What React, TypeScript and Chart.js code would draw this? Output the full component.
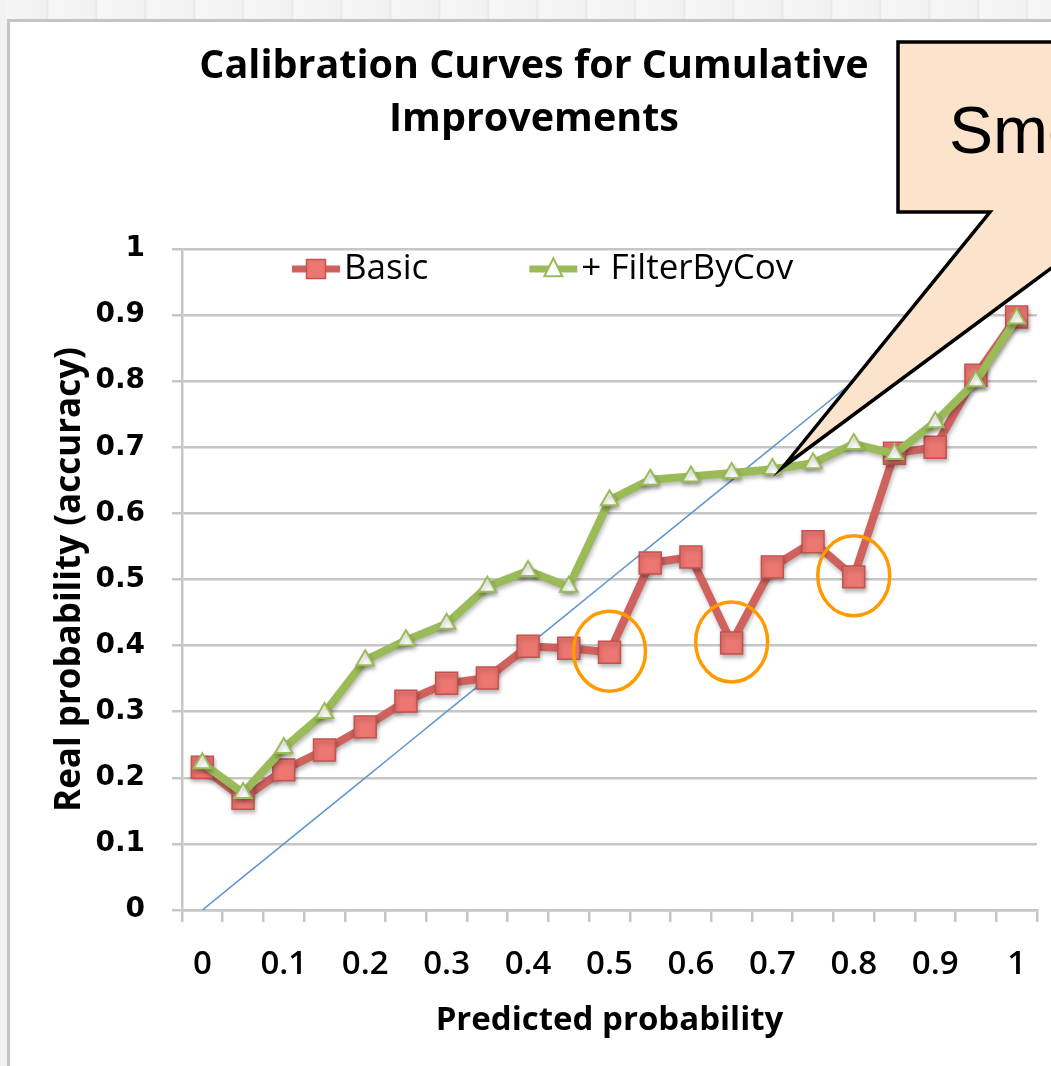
import { useEffect, useRef } from 'react';
import { Chart, registerables } from 'chart.js';

Chart.register(...registerables);

// ---------------- data ----------------
const TITLE_LINES = ['Calibration Curves for Cumulative', 'Improvements'];
const X_TITLE = 'Predicted probability';
const Y_TITLE = 'Real probability (accuracy)';

const CATEGORIES = ['0', '0.05', '0.1', '0.15', '0.2', '0.25', '0.3', '0.35', '0.4', '0.45', '0.5', '0.55', '0.6', '0.65', '0.7', '0.75', '0.8', '0.85', '0.9', '0.95', '1'];
const X_TICK_LABELS = ['0', '0.1', '0.2', '0.3', '0.4', '0.5', '0.6', '0.7', '0.8', '0.9', '1'];

const SERIES_NAMES = ['Basic', '+ FilterByCov'];
const BASIC = [0.216, 0.169, 0.212, 0.242, 0.277, 0.316, 0.343, 0.351, 0.399, 0.396, 0.39, 0.525, 0.534, 0.404, 0.519, 0.557, 0.504, 0.691, 0.7, 0.809, 0.897];
const FILTER_BY_COV = [0.222, 0.177, 0.245, 0.298, 0.378, 0.408, 0.433, 0.489, 0.513, 0.489, 0.62, 0.651, 0.656, 0.661, 0.667, 0.676, 0.705, 0.69, 0.738, 0.8, 0.895];
const DIAGONAL = [0, 0.05, 0.1, 0.15, 0.2, 0.25, 0.3, 0.35, 0.4, 0.45, 0.5, 0.55, 0.6, 0.65, 0.7, 0.75, 0.8, 0.85, 0.9, 0.95, 1];

const Y_TICKS = [0, 0.1, 0.2, 0.3, 0.4, 0.5, 0.6, 0.7, 0.8, 0.9, 1];
const Y_TICK_LABELS = ['0', '0.1', '0.2', '0.3', '0.4', '0.5', '0.6', '0.7', '0.8', '0.9', '1'];

const CIRCLED_CATEGORIES = ['0.5', '0.65', '0.8'];
const CALLOUT_TEXT = 'Smoother';

// ---------------- styles ----------------
const RED_LINE = 'rgb(208,98,94)';
const RED_FILL = 'rgb(236,118,113)';
const RED_BORDER = 'rgb(196,82,78)';
const GREEN = 'rgb(155,187,89)';
const BLUE = 'rgb(98,150,208)';
const GRID = '#c6c6c6';
const ORANGE = '#ff9a00';

const CANVAS_LEFT = 31;
const CANVAS_W = 1026;
const CANVAS_H = 1066;

const shadowPlugin = {
  id: 'shadowPlugin',
  beforeDatasetDraw(chart: any, args: any) {
    if (args.index > 1) return;
    const ctx = chart.ctx;
    ctx.save();
    ctx.shadowColor = 'rgba(0,0,0,0.28)';
    ctx.shadowBlur = 4;
    ctx.shadowOffsetX = 1;
    ctx.shadowOffsetY = 3;
  },
  afterDatasetDraw(chart: any, args: any) {
    if (args.index > 1) return;
    chart.ctx.restore();
  },
};

const circlesPlugin = {
  id: 'circlesPlugin',
  afterDatasetsDraw(chart: any) {
    const { ctx, scales } = chart;
    ctx.save();
    ctx.strokeStyle = ORANGE;
    ctx.lineWidth = 3.5;
    CIRCLED_CATEGORIES.forEach((cat) => {
      const idx = CATEGORIES.indexOf(cat);
      const cx = scales.x.getPixelForValue(idx);
      const cy = scales.y.getPixelForValue(BASIC[idx]);
      ctx.beginPath();
      ctx.ellipse(cx, cy - 1, 36, 40, 0, 0, Math.PI * 2);
      ctx.stroke();
    });
    ctx.restore();
  },
};

function drawSquare(ctx: CanvasRenderingContext2D, x: number, y: number, s: number) {
  ctx.fillStyle = RED_FILL;
  ctx.strokeStyle = RED_BORDER;
  ctx.lineWidth = 1.5;
  ctx.fillRect(x - s / 2, y - s / 2, s, s);
  ctx.strokeRect(x - s / 2, y - s / 2, s, s);
}

function drawTriangle(ctx: CanvasRenderingContext2D, x: number, y: number, s: number) {
  ctx.fillStyle = '#ffffff';
  ctx.strokeStyle = GREEN;
  ctx.lineWidth = 2;
  ctx.beginPath();
  ctx.moveTo(x, y - s * 0.6);
  ctx.lineTo(x + s / 2, y + s * 0.4);
  ctx.lineTo(x - s / 2, y + s * 0.4);
  ctx.closePath();
  ctx.fill();
  ctx.stroke();
}

const legendPlugin = {
  id: 'customLegend',
  afterDraw(chart: any) {
    const { ctx, chartArea } = chart;
    ctx.save();
    ctx.font = '35px "Open Sans"';
    ctx.textBaseline = 'middle';
    ctx.textAlign = 'left';
    let x = chartArea.left + 110;
    const y = chartArea.top + 20;
    SERIES_NAMES.forEach((name, i) => {
      const ds = chart.data.datasets[i];
      ctx.strokeStyle = ds.borderColor;
      ctx.lineWidth = 7;
      ctx.beginPath();
      ctx.moveTo(x, y);
      ctx.lineTo(x + 48, y);
      ctx.stroke();
      if (i === 0) drawSquare(ctx, x + 24, y, 19);
      else drawTriangle(ctx, x + 24, y, 18);
      ctx.fillStyle = '#000';
      ctx.fillText(name, x + 52, y);
      x += 52 + ctx.measureText(name).width + 101;
    });
    ctx.restore();
  },
};

export default function App() {
  const canvasRef = useRef<HTMLCanvasElement | null>(null);

  useEffect(() => {
    const canvas = canvasRef.current;
    if (!canvas) return;
    const chart = new Chart(canvas, {
      type: 'line',
      data: {
        labels: CATEGORIES,
        datasets: [
          {
            label: SERIES_NAMES[0],
            data: BASIC,
            borderColor: RED_LINE,
            borderWidth: 8,
            pointStyle: 'rect',
            pointRadius: 15.5,
            pointBackgroundColor: RED_FILL,
            pointBorderColor: RED_BORDER,
            pointBorderWidth: 1.5,
            tension: 0,
            order: 1,
          },
          {
            label: SERIES_NAMES[1],
            data: FILTER_BY_COV,
            borderColor: GREEN,
            borderWidth: 8,
            pointStyle: 'triangle',
            pointRadius: 10,
            pointBackgroundColor: '#ffffff',
            pointBorderColor: GREEN,
            pointBorderWidth: 2,
            tension: 0,
            order: 0,
          },
          {
            label: 'diagonal',
            data: DIAGONAL,
            borderColor: BLUE,
            borderWidth: 1.6,
            pointRadius: 0,
            tension: 0,
            order: 2,
          },
        ],
      },
      options: {
        responsive: false,
        animation: false,
        events: [],
        devicePixelRatio: 1,
        layout: { padding: { left: 0, right: 20, top: 0, bottom: 0 } },
        plugins: {
          legend: { display: false },
          tooltip: { enabled: false },
          title: {
            display: true,
            text: TITLE_LINES,
            color: '#000',
            font: { family: '"Open Sans"', weight: 'bold', size: 39.5, lineHeight: 53 / 39.5 },
            padding: { top: 40, bottom: 103 },
          },
        },
        scales: {
          x: {
            type: 'category',
            offset: true,
            grid: {
              offset: true,
              drawOnChartArea: false,
              drawTicks: true,
              tickLength: 12,
              color: GRID,
              lineWidth: 2.5,
            },
            border: { display: true, color: GRID, width: 2.5 },
            ticks: {
              autoSkip: false,
              maxRotation: 0,
              minRotation: 0,
              padding: 23,
              color: '#000',
              font: { family: '"Open Sans"', weight: '600', size: 33 },
              callback: (_v: any, index: number) => {
                const cat = CATEGORIES[index];
                return X_TICK_LABELS.includes(cat) ? cat : '';
              },
            },
            title: {
              display: true,
              text: X_TITLE,
              color: '#000',
              font: { family: '"Open Sans"', weight: 'bold', size: 33, lineHeight: 1.2 },
              padding: { top: 0, bottom: 26 },
            },
            afterFit: (scale: any) => {
              scale.height = 156;
            },
          },
          y: {
            min: 0,
            max: 1,
            afterBuildTicks: (axis: any) => {
              axis.ticks = Y_TICKS.map((v) => ({ value: v }));
            },
            grid: {
              color: GRID,
              lineWidth: 2.5,
              drawTicks: true,
              tickLength: 10,
            },
            border: { display: true, color: GRID, width: 2.5 },
            ticks: {
              padding: 27,
              color: '#000',
              font: { family: '"DejaVu Sans"', weight: 'bold', size: 28 },
              callback: (v: any) => {
                const i = Y_TICKS.indexOf(Number(v));
                return i >= 0 ? Y_TICK_LABELS[i] : '';
              },
            },
            title: {
              display: true,
              text: Y_TITLE,
              color: '#000',
              font: { family: '"Open Sans"', weight: 'bold', size: 35, lineHeight: 1.2 },
              padding: { top: 18, bottom: 0 },
            },
            afterFit: (scale: any) => {
              scale.width = 182 - CANVAS_LEFT;
            },
          },
        },
      },
      plugins: [shadowPlugin, circlesPlugin, legendPlugin],
    } as any);
    return () => chart.destroy();
  }, []);

  return (
    <div
      style={{
        position: 'absolute',
        left: 0,
        top: 0,
        width: 1051,
        height: 1066,
        overflow: 'hidden',
        background: '#ffffff',
      }}
    >
      {/* slide frame */}
      <div
        style={{
          position: 'absolute',
          left: 0,
          top: 0,
          width: 1051,
          height: 19,
          background:
            'repeating-linear-gradient(to right, #f6f6f6 0px, #f1f1f1 46px, #e4e4e4 47px, #f6f6f6 49px)',
        }}
      />
      <div style={{ position: 'absolute', left: 0, top: 0, width: 7, height: 1066, background: '#f2f2f2' }} />
      <div
        style={{
          position: 'absolute',
          left: 7,
          top: 19,
          width: 1100,
          height: 1100,
          borderLeft: '3px solid #c4c4c4',
          borderTop: '3px solid #c4c4c4',
          background: '#ffffff',
        }}
      />
      <canvas
        ref={canvasRef}
        width={CANVAS_W}
        height={CANVAS_H}
        style={{ position: 'absolute', left: CANVAS_LEFT, top: 0, width: CANVAS_W, height: CANVAS_H }}
      />
      <svg
        width={1051}
        height={1066}
        style={{ position: 'absolute', left: 0, top: 0, pointerEvents: 'none' }}
      >
        <path
          d="M898,42 L1200,42 L1200,212 L1127,212 L783,467 L990,212 L898,212 Z"
          fill="#fce4cc"
          stroke="#000"
          strokeWidth={3.5}
          strokeLinejoin="miter"
          strokeMiterlimit={10}
        />
        <text x={949} y={153} fontFamily='"Liberation Sans", Arial, sans-serif' fontSize={66} fill="#000">
          {CALLOUT_TEXT}
        </text>
      </svg>
    </div>
  );
}
